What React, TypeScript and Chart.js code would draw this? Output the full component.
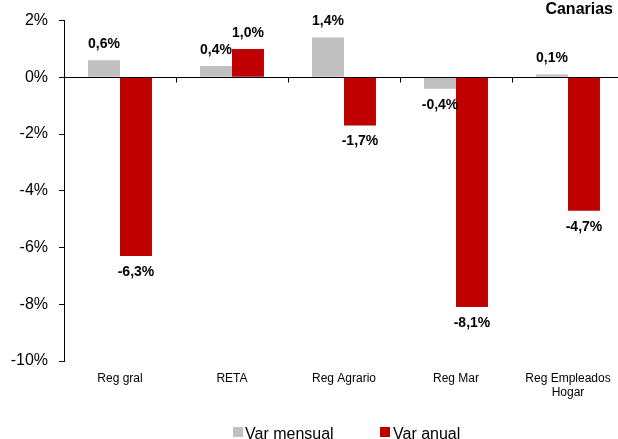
import React, { useEffect, useRef } from "react";
import { Chart, registerables } from "chart.js";

Chart.register(...registerables);

const categories: (string | string[])[] = ["Reg gral", "RETA", "Reg Agrario", "Reg Mar", ["Reg Empleados", "Hogar"]];
const seriesNames = ["Var mensual", "Var anual"];
const varMensual = [0.6, 0.4, 1.4, -0.4, 0.1];
const varAnual = [-6.3, 1.0, -1.7, -8.1, -4.7];
const seriesColors = ["#c0c0c0", "#c00000"];
const titleText = "Canarias";
const yMin = -10;
const yMax = 2;
const yStep = 2;

const FONT = "'Liberation Sans', Arial, sans-serif";

const fmt = (v: number) => v.toFixed(1).replace(".", ",") + "%";

const overlayPlugin = {
  id: "overlay",
  afterDatasetsDraw(chart: any) {
    const ctx = chart.ctx;
    const ys = chart.scales.y;
    const area = chart.chartArea;
    const y0 = Math.round(ys.getPixelForValue(0)) + 0.5;
    ctx.save();
    // zero line
    ctx.strokeStyle = "#000";
    ctx.lineWidth = 1;
    ctx.beginPath();
    ctx.moveTo(area.left, y0);
    ctx.lineTo(area.right, y0);
    ctx.stroke();
    // category boundary ticks
    const n = categories.length;
    const w = (area.right - area.left) / n;
    for (let i = 1; i <= n; i++) {
      const x = Math.round(area.left + w * i) + 0.5;
      ctx.beginPath();
      ctx.moveTo(x, y0);
      ctx.lineTo(x, y0 + 5);
      ctx.stroke();
    }
    // data labels
    ctx.fillStyle = "#000";
    ctx.font = "bold 14px " + FONT;
    ctx.textAlign = "center";
    ctx.textBaseline = "middle";
    chart.data.datasets.forEach((ds: any, di: number) => {
      const meta = chart.getDatasetMeta(di);
      meta.data.forEach((el: any, i: number) => {
        const v = ds.data[i];
        const y = v >= 0 ? el.y - 16 : el.y + 16;
        ctx.fillText(fmt(v), el.x, y);
      });
    });
    ctx.restore();
  },
  afterDraw(chart: any) {
    const ctx = chart.ctx;
    ctx.save();
    // title
    ctx.fillStyle = "#000";
    ctx.font = "bold 16px " + FONT;
    ctx.textAlign = "right";
    ctx.textBaseline = "middle";
    ctx.fillText(titleText, 613, 10);
    // legend
    ctx.font = "16px " + FONT;
    ctx.textAlign = "left";
    ctx.textBaseline = "alphabetic";
    const items = [
      { x: 233, tx: 245 },
      { x: 380, tx: 393 },
    ];
    items.forEach((it, i) => {
      ctx.fillStyle = seriesColors[i];
      ctx.fillRect(it.x, 427, 10, 10);
      ctx.fillStyle = "#000";
      ctx.fillText(seriesNames[i], it.tx, 439);
    });
    ctx.restore();
  },
};

export default function App() {
  const ref = useRef<HTMLCanvasElement>(null);
  useEffect(() => {
    if (!ref.current) return;
    const chart = new Chart(ref.current, {
      type: "bar",
      data: {
        labels: categories,
        datasets: [
          {
            label: seriesNames[0],
            data: varMensual,
            backgroundColor: seriesColors[0],
            categoryPercentage: 0.571,
            barPercentage: 1,
          },
          {
            label: seriesNames[1],
            data: varAnual,
            backgroundColor: seriesColors[1],
            categoryPercentage: 0.571,
            barPercentage: 1,
          },
        ],
      },
      options: {
        responsive: false,
        animation: false,
        layout: { padding: { top: 16, right: 8, bottom: 0, left: 0 } },
        plugins: {
          legend: { display: false },
          tooltip: { enabled: false },
          title: { display: false },
        },
        scales: {
          x: {
            grid: { display: false },
            border: { display: false },
            ticks: {
              color: "#000",
              padding: 2,
              maxRotation: 0,
              autoSkip: false,
              font: { family: FONT, size: 12, lineHeight: 1.2 },
            },
            afterFit: (s: any) => {
              s.height = 78;
            },
          },
          y: {
            min: yMin,
            max: yMax,
            grid: { drawOnChartArea: false, drawTicks: true, tickLength: 5, color: "#000" },
            border: { display: true, color: "#000" },
            ticks: {
              stepSize: yStep,
              color: "#000",
              padding: 11,
              font: { family: FONT, size: 16 },
              callback: (v: any) => v + "%",
            },
            afterFit: (s: any) => {
              s.width = 64;
            },
          },
        },
      },
      plugins: [overlayPlugin],
    });
    return () => chart.destroy();
  }, []);
  return (
    <div style={{ position: "fixed", left: 0, top: 0, width: 618, height: 439, overflow: "hidden", background: "#fff" }}>
      <canvas ref={ref} width={632} height={439} style={{ display: "block" }} />
    </div>
  );
}
